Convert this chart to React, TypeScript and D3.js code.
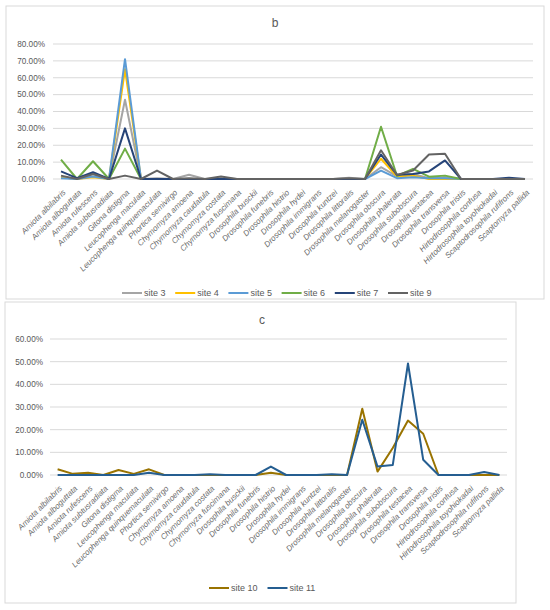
import React from "react";
import { scalePoint, scaleLinear, line as d3_line, range } from "d3";

const species = [
    "Amiota albilabris",
    "Amiota alboguttata",
    "Amiota rufescens",
    "Amiota subtusradiata",
    "Gitona distigma",
    "Leucophenga maculata",
    "Leucophenga quinquemaculata",
    "Phortica semivirgo",
    "Chymomyza amoena",
    "Chymomyza caudatula",
    "Chymomyza costata",
    "Chymomyza fuscimana",
    "Drosophila busckii",
    "Drosophila funebris",
    "Drosophila histrio",
    "Drosophila hydei",
    "Drosophila immigrans",
    "Drosophila kuntzei",
    "Drosophila littoralis",
    "Drosophila melanogaster",
    "Drosophila obscura",
    "Drosophila phalerata",
    "Drosophila subobscura",
    "Drosophila testacea",
    "Drosophila transversa",
    "Drosophila tristis",
    "Hirtodrosophila confusa",
    "Hirtodrosophila toyohiokadai",
    "Scaptodrosophila rufifrons",
    "Scaptomyza pallida",
];

// panel b, percent
const site3 = [1, 0, 3, 0, 47, 0, 0.5, 0, 2.5, 0, 0.5, 0, 0, 0, 0, 0, 0, 0, 0.8, 0, 7, 1.5, 3, 0.5, 1, 0, 0, 0, 0, 0];
const site4 = [1, 0, 1, 0, 65, 0, 0, 0, 0, 0, 0, 0, 0, 0, 0, 0, 0, 0, 0, 0, 12, 1.5, 2, 0, 0, 0, 0, 0, 0, 0];
const site5 = [0.5, 0, 1.5, 0, 71, 0, 0, 0, 0, 0, 0, 0, 0, 0, 0, 0, 0, 0, 0, 0, 5, 0.5, 1, 0.5, 0.5, 0, 0, 0, 0, 0];
const site6 = [11.5, 0, 10.5, 0, 18, 0, 0, 0, 0, 0, 0, 0, 0, 0, 0, 0, 0, 0, 0, 0, 31, 1.8, 6, 1.4, 2, 0, 0, 0, 0, 0];
const site7 = [4.5, 0.5, 4, 0, 30, 0, 0, 0, 0, 0, 0, 0, 0, 0, 0, 0, 0, 0, 0, 0, 14.5, 2.5, 3, 4.5, 11, 0, 0, 0, 0.8, 0];
const site9 = [2, 0, 3, 0, 2, 0, 5, 0, 0.5, 0, 1.5, 0, 0, 0, 0, 0, 0, 0, 0.5, 0, 17, 2.4, 5, 14.5, 15, 0, 0, 0, 0, 0];

// panel c, percent
const site10 = [2.5, 0.5, 1, 0, 2.2, 0.5, 2.5, 0, 0, 0, 0, 0, 0, 0, 1, 0, 0, 0, 0, 0, 29.2, 1.5, 11.9, 24, 18.2, 0, 0, 0, 0, 0];
const site11 = [0, 0, 0, 0, 0, 0, 1, 0, 0, 0, 0.3, 0, 0, 0, 3.7, 0, 0, 0, 0.3, 0, 24.4, 3.7, 4.4, 49.2, 6.7, 0, 0, 0, 1.3, 0];

const ticksB = range(0, 81, 10);
const ticksC = range(0, 61, 10);

type Series = { name: string; values: number[]; color: string };

const seriesB: Series[] = [
    { name: "site 3", values: site3, color: "#A5A5A5" },
    { name: "site 4", values: site4, color: "#FFC000" },
    { name: "site 5", values: site5, color: "#5B9BD5" },
    { name: "site 6", values: site6, color: "#70AD47" },
    { name: "site 7", values: site7, color: "#264478" },
    { name: "site 9", values: site9, color: "#636363" },
];

const seriesC: Series[] = [
    { name: "site 10", values: site10, color: "#997300" },
    { name: "site 11", values: site11, color: "#255E91" },
];

const FONT = "'Liberation Sans', Arial, sans-serif";

type PanelProps = {
    title: string;
    series: Series[];
    ticks: number[];
    box: [number, number, number, number];
    plot: { left: number; right: number; top: number; bottom: number };
    titleX: number;
    titleY: number;
    labelX: number;
    legendY: number;
    legendX: number;
    legendStep: number;
};

const Panel: React.FC<PanelProps> = ({ title, series, ticks, box, plot, titleX, titleY, labelX, legendY, legendX, legendStep }) => {
    const x = scalePoint<string>().domain(species).range([plot.left, plot.right]).padding(0.5);
    const y = scaleLinear().domain([0, ticks[ticks.length - 1]]).range([plot.bottom, plot.top]);
    const line = d3_line<number>()
        .x((_, i) => x(species[i]) ?? 0)
        .y((d) => y(d));

    return (
        <g>
            <rect x={box[0]} y={box[1]} width={box[2]} height={box[3]} fill="#fff" stroke="#D9D9D9" strokeWidth={1} />
            <text x={titleX} y={titleY} fontSize={12} fill="#595959" textAnchor="middle" fontFamily={FONT}>
                {title}
            </text>

            {/* Grid and y labels */}
            {ticks.map((t) => (
                <g key={t}>
                    <line x1={plot.left} x2={plot.right} y1={y(t)} y2={y(t)} stroke="#D9D9D9" strokeWidth={1} />
                    <text x={labelX} y={y(t)} dy="0.35em" fontSize={8.2} fill="#595959" textAnchor="end" fontFamily={FONT}>
                        {t.toFixed(2)}%
                    </text>
                </g>
            ))}

            {/* Category labels */}
            {species.map((s) => (
                <text
                    key={s}
                    transform={`translate(${(x(s) ?? 0) + 5},${plot.bottom + 14}) rotate(-45)`}
                    fontSize={8}
                    fontStyle="italic"
                    fill="#6a6a6a"
                    textAnchor="end"
                    fontFamily={FONT}
                >
                    {s}
                </text>
            ))}

            {/* Lines */}
            {series.map((s) => (
                <path key={s.name} d={line(s.values) ?? ""} fill="none" stroke={s.color} strokeWidth={2} strokeLinejoin="round" />
            ))}

            {/* Legend */}
            {series.map((s, i) => (
                <g key={s.name} transform={`translate(${legendX + i * legendStep},${legendY})`}>
                    <line x1={0} x2={20} y1={0} y2={0} stroke={s.color} strokeWidth={2} />
                    <text x={22} y={0} dy="0.35em" fontSize={9} fill="#595959" fontFamily={FONT}>
                        {s.name}
                    </text>
                </g>
            ))}
        </g>
    );
};

export default function App() {
    return (
        <svg width={550} height={610} style={{ position: "absolute", left: 0, top: 0, background: "#fff" }}>
            <Panel
                title="b"
                series={seriesB}
                ticks={ticksB}
                box={[6, 6, 538, 293]}
                plot={{ left: 53, right: 533, top: 44, bottom: 179 }}
                titleX={275}
                titleY={27}
                labelX={45}
                legendY={293}
                legendX={122}
                legendStep={53.2}
            />
            <Panel
                title="c"
                series={seriesC}
                ticks={ticksC}
                box={[5, 302, 511, 301]}
                plot={{ left: 50, right: 507, top: 339, bottom: 475 }}
                titleX={262}
                titleY={324}
                labelX={43}
                legendY={588}
                legendX={209}
                legendStep={58.5}
            />
        </svg>
    );
}
